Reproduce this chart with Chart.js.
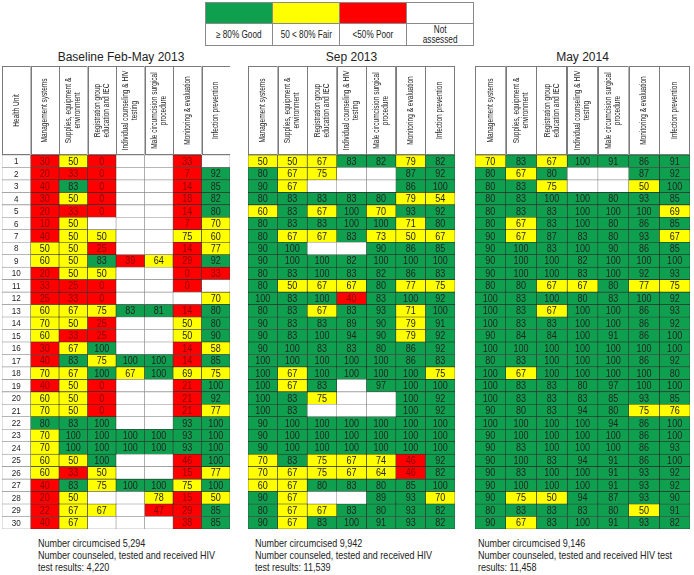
<!DOCTYPE html>
<html>
<head>
<meta charset="utf-8">
<script src="https://cdn.jsdelivr.net/npm/chart.js@4.4.0/dist/chart.umd.min.js"></script>
<style>
  body { margin: 0; background: #fff; }
  #page { position: relative; width: 694px; height: 575px; overflow: hidden; font-family: 'Liberation Sans', Arial, sans-serif; color: #222; }
  .panel { position: absolute; top: 66px; }
  .title { position: absolute; top: 50px; font-size: 12px; text-align: center; }
  .narrow { display: inline-block; transform: scaleX(0.82); transform-origin: left top; white-space: nowrap; }
  .foot { position: absolute; top: 537px; font-size: 11px; line-height: 12px; }
  #key { position: absolute; left: 205px; top: 2px; border-collapse: collapse; font-size: 10px; }
  #key td { border: 1px solid #8a8a8a; width: 66px; padding: 0; text-align: center; }
  #key tr.sw td { height: 20px; }
  #key tr.tx td { height: 21px; line-height: 10px; }
  #key .narrow { transform-origin: center; }
</style>
</head>
<body>
<div id="page">
  <table id="key"><tr class="sw"></tr><tr class="tx"></tr></table>
</div>
<script>
// rows = health units, columns = the seven criteria
const healthUnits = ['1','2','3','4','5','6','7','8','9','10','11','12','13','14','15',
  '16','17','18','19','20','21','22','23','24','25','26','27','28','29','30'];
const criteria = [
  ['Management systems'],
  ['Supplies, equipment &', 'environment'],
  ['Registration group', 'education and IEC'],
  ['Individual counseling & HIV', 'testing'],
  ['Male circumcision surgical', 'procedure'],
  ['Monitoring & evaluation'],
  ['Infection prevention']
];
const periods = ['Baseline Feb-May 2013', 'Sep 2013', 'May 2014'];

// null = not assessed
const baseline = [
  [30, 50, 0, null, null, 33, null],
  [20, 33, 0, null, null, 7, 92],
  [40, 83, 0, null, null, 14, 85],
  [30, 50, 0, null, null, 18, 82],
  [20, 33, 0, null, null, 14, 80],
  [10, 50, null, null, null, 7, 70],
  [40, 50, 50, null, null, 75, 60],
  [50, 50, 25, null, null, 14, 77],
  [60, 50, 83, 39, 64, 29, 92],
  [20, 50, 50, null, null, 0, 33],
  [33, 25, 0, null, null, 0, null],
  [25, 33, 0, null, null, null, 70],
  [60, 67, 75, 83, 81, 14, 80],
  [70, 50, 25, null, null, 50, 80],
  [60, 33, 25, null, null, 50, 90],
  [30, 67, 100, null, null, 14, 58],
  [40, 83, 75, 100, 100, 14, 85],
  [70, 67, 100, 67, 100, 69, 75],
  [40, 50, 0, null, null, 21, 100],
  [60, 50, 0, null, null, 21, 92],
  [70, 50, 0, null, null, 21, 77],
  [80, 83, 100, null, null, 93, 100],
  [70, 100, 100, 100, 100, 93, 100],
  [70, 100, 100, 100, 100, 93, 100],
  [60, 50, 100, null, null, 46, 100],
  [60, 33, 50, null, null, 15, 77],
  [40, 83, 75, 100, 100, 75, 100],
  [20, 50, null, null, 78, 15, 50],
  [22, 67, 67, null, 47, 29, 85],
  [40, 67, null, null, null, 38, 85]
];
const sep2013 = [
  [50, 50, 67, 83, 82, 79, 82],
  [80, 67, 75, null, null, 87, 92],
  [90, 67, null, null, null, 86, 100],
  [80, 83, 83, 83, 80, 79, 54],
  [60, 83, 67, 100, 70, 93, 92],
  [80, 83, 83, 100, 100, 71, 80],
  [80, 67, 67, 83, 73, 50, 67],
  [90, 100, null, null, 90, 86, 85],
  [90, 100, 100, 82, 100, 100, 100],
  [80, 83, 100, 83, 82, 86, 83],
  [80, 50, 67, 67, 80, 77, 75],
  [100, 83, 100, 40, 83, 100, 92],
  [80, 83, 67, 83, 93, 71, 100],
  [90, 83, 83, 89, 90, 79, 91],
  [90, 83, 100, 94, 90, 79, 92],
  [90, 100, 83, 83, 80, 86, 92],
  [100, 100, 100, 100, 100, 86, 83],
  [100, 67, 100, 100, 100, 100, 75],
  [100, 67, 83, null, 97, 100, 100],
  [100, 83, 75, null, null, 100, 92],
  [100, 83, null, null, null, 100, 92],
  [90, 100, 100, 100, 100, 100, 100],
  [90, 100, 100, 100, 100, 100, 100],
  [90, 100, 100, 100, 100, 100, 100],
  [70, 83, 75, 67, 74, 46, 92],
  [70, 67, 75, 67, 64, 46, 82],
  [60, 67, 80, 83, 80, 85, 100],
  [90, 67, null, null, 89, 93, 70],
  [80, 67, 67, 83, 80, 93, 82],
  [90, 67, 83, 100, 91, 93, 82]
];
const may2014 = [
  [70, 83, 67, 100, 91, 86, 91],
  [80, 67, 80, null, null, 87, 92],
  [80, 83, 75, null, null, 50, 100],
  [80, 83, 100, 100, 80, 93, 85],
  [80, 83, 83, 100, 100, 100, 69],
  [80, 67, 83, 100, 80, 86, 85],
  [90, 67, 87, 83, 80, 93, 67],
  [90, 100, 83, 100, 90, 86, 85],
  [90, 100, 100, 82, 100, 100, 100],
  [90, 100, 100, 83, 100, 92, 93],
  [80, 80, 67, 67, 80, 77, 75],
  [100, 83, 100, 80, 83, 100, 92],
  [100, 83, 67, 100, 100, 86, 93],
  [100, 83, 83, 100, 100, 86, 92],
  [90, 84, 84, 100, 91, 86, 100],
  [100, 100, 100, 100, 100, 100, 100],
  [80, 83, 100, 100, 100, 86, 92],
  [100, 67, 100, 100, 100, 100, 80],
  [100, 83, 83, 80, 97, 100, 100],
  [100, 83, 83, 83, 85, 93, 85],
  [90, 80, 83, 94, 80, 75, 76],
  [100, 100, 100, 100, 94, 86, 100],
  [90, 100, 100, 100, 100, 86, 100],
  [90, 83, 100, 100, 100, 86, 93],
  [90, 100, 83, 94, 91, 86, 100],
  [90, 83, 100, 100, 91, 93, 92],
  [90, 100, 100, 100, 91, 93, 92],
  [90, 75, 50, 94, 87, 93, 90],
  [80, 83, 83, 83, 80, 50, 91],
  [90, 67, 83, 100, 91, 93, 82]
];
const circumcised = ['5,294', '9,942', '9,146'];
const counseled = ['4,220', '11,539', '11,458'];
const keyLabels = [['\u2265 80% Good'], ['50 < 80% Fair'], ['<50%  Poor'], ['Not', 'assessed']];

const GREEN = '#0fa04f', YELLOW = '#ffff00', RED = '#ff0000', WHITE = '#ffffff';
const keyColors = [GREEN, YELLOW, RED, WHITE];
const FONT = "'Liberation Sans', Arial, sans-serif";

function cellColor(raw) {
  if (!raw || raw.unit || raw.v == null) return WHITE;
  if (raw.v >= 80) return GREEN;
  if (raw.v >= 50) return YELLOW;
  return RED;
}

// draws the header row and the numbers in the cells
const tablePlugin = {
  id: 'tableText',
  afterDraw(chart) {
    const ctx = chart.ctx;
    const xs = chart.scales.x;
    const area = chart.chartArea;
    const heads = chart.options.plugins.tableText.heads;

    ctx.save();
    heads.forEach((lines, c) => {
      const x0 = xs.getPixelForValue(c), x1 = xs.getPixelForValue(c + 1);
      ctx.fillStyle = '#fff';
      ctx.fillRect(x0, 0, x1 - x0, area.top);
      ctx.strokeStyle = '#7a7a7a';
      ctx.lineWidth = 1;
      ctx.strokeRect(Math.round(x0) + 0.5, 0.5, Math.round(x1 - x0) - 1, area.top - 1);
      ctx.translate((x0 + x1) / 2, area.top / 2);
      ctx.rotate(-Math.PI / 2);
      ctx.scale(0.8, 1);
      ctx.fillStyle = '#222';
      ctx.font = '8.2px ' + FONT;
      ctx.textAlign = 'center';
      ctx.textBaseline = 'middle';
      lines.forEach((t, i) => ctx.fillText(t, 0, (i - (lines.length - 1) / 2) * 9));
      ctx.setTransform(1, 0, 0, 1, 0, 0);
    });

    ctx.font = '11px ' + FONT;
    ctx.textAlign = 'center';
    ctx.textBaseline = 'middle';
    chart.data.datasets.forEach((ds, d) => {
      chart.getDatasetMeta(d).data.forEach((bar, i) => {
        const raw = ds.data[i];
        if (raw.v == null) return;
        const p = bar.getProps(['x', 'base', 'y'], true);
        ctx.save();
        ctx.translate((p.x + p.base) / 2, p.y + 0.5);
        ctx.scale(raw.unit ? 0.9 : 0.82, 1);
        if (raw.unit) ctx.font = '9px ' + FONT;
        ctx.fillStyle = cellColor(raw) === RED ? '#8a0000' : '#222';
        ctx.fillText(String(raw.v), 0, 0);
        ctx.restore();
      });
    });
    ctx.restore();
  }
};

function makePanel(rows, left, width, withUnits, title, idx) {
  const page = document.getElementById('page');
  const div = document.createElement('div');
  div.className = 'panel';
  div.style.left = left + 'px';
  const canvas = document.createElement('canvas');
  canvas.width = width;
  canvas.height = 463;
  div.appendChild(canvas);
  page.appendChild(div);

  const t = document.createElement('div');
  t.className = 'title';
  t.style.left = left + 'px';
  t.style.width = (width + (withUnits ? 10 : 0)) + 'px';
  t.textContent = title;
  page.appendChild(t);

  const heads = withUnits ? [['Health Unit']].concat(criteria) : criteria;
  const cellBorder = ctx => (ctx.raw && (ctx.raw.unit || ctx.raw.v == null)) ? '#8a8a8a' : '#2a2a2a';
  const datasets = [];
  let c0 = 0;
  if (withUnits) {
    datasets.push({
      data: healthUnits.map(u => ({ x: [0, 1], y: u, v: u, unit: true })),
      backgroundColor: WHITE,
      borderColor: '#8a8a8a'
    });
    c0 = 1;
  }
  criteria.forEach((_, k) => {
    datasets.push({
      data: rows.map((r, i) => ({ x: [c0 + k, c0 + k + 1], y: healthUnits[i], v: r[k] })),
      backgroundColor: ctx => cellColor(ctx.raw),
      borderColor: cellBorder
    });
  });

  new Chart(canvas, {
    type: 'bar',
    data: { labels: healthUnits, datasets: datasets },
    options: {
      indexAxis: 'y',
      responsive: false,
      animation: false,
      layout: { padding: { top: 89, left: 0, right: 0, bottom: 0 } },
      scales: {
        x: { type: 'linear', min: 0, max: heads.length, display: false },
        y: { type: 'category', display: false }
      },
      datasets: {
        bar: {
          grouped: false,
          barPercentage: 1,
          categoryPercentage: 1,
          borderSkipped: false,
          borderWidth: 0.6
        }
      },
      plugins: {
        colors: { enabled: false },
        legend: { display: false },
        tooltip: { enabled: false },
        tableText: { heads: heads }
      }
    },
    plugins: [tablePlugin]
  });

  const f = document.createElement('div');
  f.className = 'foot';
  f.style.left = (idx === 0 ? 38 : idx === 1 ? 255 : 478) + 'px';
  const l2 = idx === 2 ? 'Number counseled, tested and received HIV test' : 'Number counseled, tested and received HIV';
  const l3 = (idx === 2 ? 'results: ' : 'test results: ') + counseled[idx];
  f.innerHTML = '<span class="narrow">Number circumcised ' + circumcised[idx] + '<br>' + l2 + '<br>' + l3 + '</span>';
  page.appendChild(f);
}

// colour key
const sw = document.querySelector('#key tr.sw');
const tx = document.querySelector('#key tr.tx');
keyLabels.forEach((lines, i) => {
  const a = document.createElement('td');
  a.style.background = keyColors[i];
  sw.appendChild(a);
  const b = document.createElement('td');
  b.innerHTML = '<span class="narrow">' + lines.join('<br>') + '</span>';
  tx.appendChild(b);
});

makePanel(baseline, 2, 228, true, periods[0], 0);
makePanel(sep2013, 248, 207, false, periods[1], 1);
makePanel(may2014, 475, 215, false, periods[2], 2);
</script>
</body>
</html>
